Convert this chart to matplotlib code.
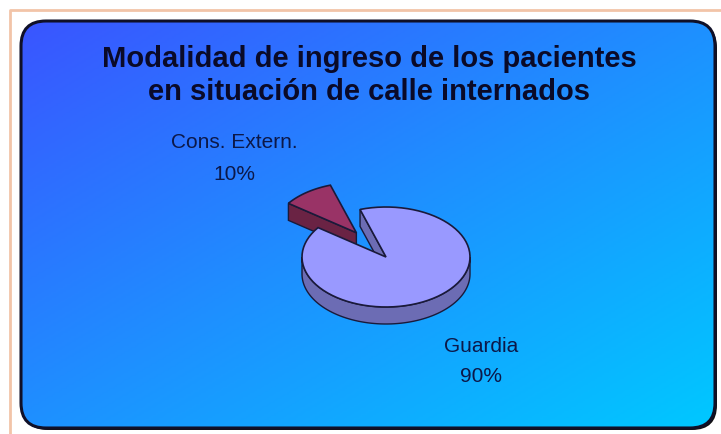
import numpy as np
import matplotlib
matplotlib.use("Agg")
import matplotlib.pyplot as plt
from matplotlib.patches import FancyBboxPatch, Polygon
from matplotlib.colors import LinearSegmentedColormap

# ---- data ----
categories = ["Cons. Extern.", "Guardia"]
values = [10, 90]
explode = [0.6, 0.0]
top_colors = ["#993366", "#9999ff"]
side_colors = ["#6a2344", "#6c6cb4"]
title_lines = ["Modalidad de ingreso de los pacientes", "en situación de calle internados"]

W, H = 721, 434
fig = plt.figure(figsize=(W / 100, H / 100), dpi=100)
ax = fig.add_axes([0, 0, 1, 1])
ax.set_xlim(0, W)
ax.set_ylim(H, 0)
ax.axis("off")
fig.patch.set_facecolor("white")

# outer frame lines
ax.plot([10, 10, W], [H, 10, 10], color="#f2c4a8", lw=2, solid_capstyle="butt", zorder=0)

# shadow + rounded panel
x0, y0, x1, y1 = 21, 21, 715, 428
pad = 25
shadow = FancyBboxPatch((x0 + pad + 2, y0 + pad + 2), (x1 - x0) - 2 * pad, (y1 - y0) - 2 * pad,
                        boxstyle=f"round,pad={pad}", fc="#111111", ec="none", zorder=1)
ax.add_patch(shadow)
panel = FancyBboxPatch((x0 + pad, y0 + pad), (x1 - x0) - 2 * pad, (y1 - y0) - 2 * pad,
                       boxstyle=f"round,pad={pad}", fc="none", ec="#101028", lw=2.2, zorder=3)
ax.add_patch(panel)
gx, gy = np.meshgrid(np.linspace(0, 1, 300), np.linspace(0, 1, 200))
t = 0.5 * gx + 0.5 * gy
cmap = LinearSegmentedColormap.from_list("bg", ["#3a55ff", "#1e90ff", "#00c8ff"])
im = ax.imshow(t, cmap=cmap, extent=(x0, x1, y1, y0), origin="upper", aspect="auto", zorder=2)
im.set_clip_path(panel)

# ---- 3D pie ----
cx, cy, rx, ry, depth = 386, 257, 84, 50, 17
start = 108.0
fracs = np.array(values) / np.sum(values)
angles = []
a = start
for f in fracs:
    angles.append((a, a + 360 * f))
    a += 360 * f


def P(theta_deg, r=1.0, off=(0.0, 0.0), dz=0.0):
    th = np.radians(theta_deg)
    return (cx + rx * (r * np.cos(th) + off[0]), cy - ry * (r * np.sin(th) + off[1]) + dz)


def arc(a0, a1, off, dz=0.0, n=80):
    return [P(t, 1.0, off, dz) for t in np.linspace(a0, a1, n)]


ec = "#1a1a3a"
z = 5
for i in [0, 1]:
    a0, a1 = angles[i]
    mid = np.radians((a0 + a1) / 2)
    off = (explode[i] * np.cos(mid), explode[i] * np.sin(mid))
    c_top = P(0, 0, off)
    c_bot = P(0, 0, off, depth)
    # outer wall (front half)
    lo, hi = max(a0, 180), min(a1, 360)
    if hi > lo:
        pts = arc(lo, hi, off) + arc(hi, lo, off, depth)
        ax.add_patch(Polygon(pts, closed=True, fc=side_colors[i], ec=ec, lw=1, zorder=z))
    # end cut face
    if np.sin(np.radians(a1 + 90)) < 0.2:
        pts = [c_top, P(a1, 1, off), P(a1, 1, off, depth), c_bot]
        ax.add_patch(Polygon(pts, closed=True, fc=side_colors[i], ec=ec, lw=1, zorder=z))
    # start cut face
    if np.sin(np.radians(a0 - 90)) < 0:
        pts = [c_top, P(a0, 1, off), P(a0, 1, off, depth), c_bot]
        ax.add_patch(Polygon(pts, closed=True, fc=side_colors[i], ec=ec, lw=1, zorder=z))
    # top face
    pts = [c_top] + arc(a0, a1, off)
    ax.add_patch(Polygon(pts, closed=True, fc=top_colors[i], ec=ec, lw=1.2, zorder=z + 1))
    z += 2

# ---- text ----
for line, yb in zip(title_lines, [67, 100]):
    ax.text(369, yb, line, ha="center", va="baseline", fontsize=21, fontweight="bold",
            family="Liberation Sans", color="#0a0a28", zorder=20)
label_pos = [(234, 148, 180), (481, 352, 382)]
for cat, v, (lx, ly1, ly2) in zip(categories, values, label_pos):
    ax.text(lx, ly1, cat, ha="center", va="baseline", fontsize=15,
            family="Liberation Sans", color="#0c1848", zorder=20)
    ax.text(lx, ly2, f"{v}%", ha="center", va="baseline", fontsize=15,
            family="Liberation Sans", color="#0c1848", zorder=20)

fig.savefig("out.png", dpi=100)
